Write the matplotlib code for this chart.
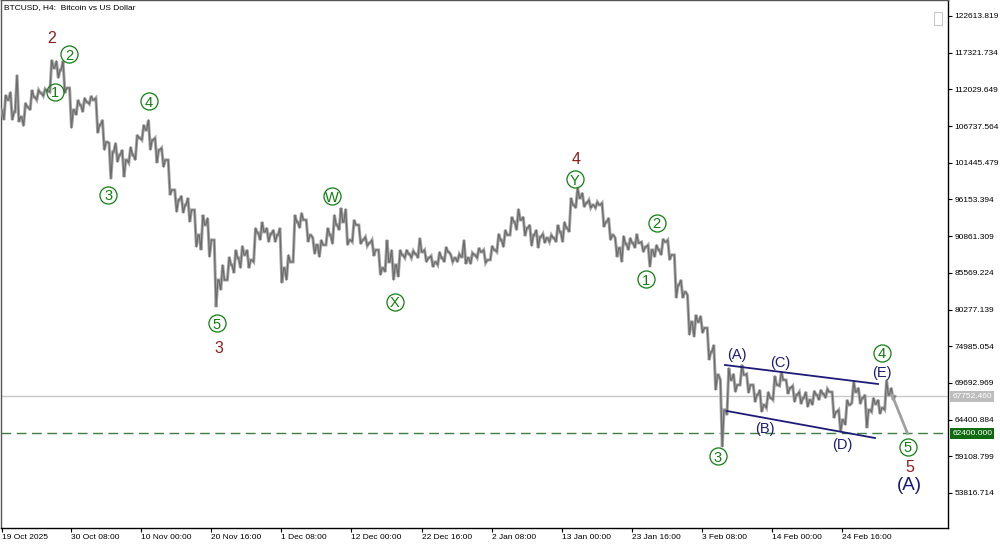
import matplotlib
matplotlib.use('Agg')
import matplotlib.pyplot as plt
from matplotlib.patches import Rectangle

plt.rcParams['font.family'] = ['Liberation Sans', 'DejaVu Sans']

# ---------------- data (daily high / low / close, thousands USD) ----------------
high_k = [111.22, 111.65, 114.11, 110.07, 111.94, 111.94, 112.09, 116.27, 116.12, 116.12,
          112.23, 110.50, 110.79, 111.08, 110.79, 107.62, 104.30, 104.30, 103.29, 103.72,
          105.45, 106.90, 107.62, 105.02, 103.58, 101.85, 97.52, 96.66, 96.37, 94.64,
          93.92, 93.48, 90.31, 86.71, 87.86, 88.87, 89.45, 88.87, 92.04, 92.91,
          92.04, 91.75, 92.04, 88.15, 93.92, 94.21, 93.20, 90.60, 90.31, 92.04,
          93.92, 94.93, 94.78, 93.20, 92.48, 90.75, 90.31, 88.87, 90.31, 88.87,
          88.87, 88.87, 88.73, 90.60, 88.87, 88.01, 88.58, 89.30, 88.15, 88.29,
          90.31, 88.44, 89.16, 88.87, 89.45, 91.18, 91.75, 93.63, 94.78, 93.63,
          92.48, 91.75, 91.18, 91.03, 92.48, 92.91, 96.37, 97.81, 97.09, 96.08,
          95.79, 95.65, 93.48, 90.60, 90.89, 90.60, 91.18, 90.02, 89.59, 89.59,
          90.46, 90.31, 88.15, 84.54, 82.38, 79.50, 79.35, 77.62, 75.17, 70.12,
          71.85, 70.99, 72.29, 70.99, 69.40, 68.68, 68.39, 70.70, 71.28, 70.12,
          69.26, 68.39, 68.39, 68.54, 68.68, 68.83, 68.39, 65.80, 67.24, 69.84,
          68.97, 67.96, 67.53, 67.24, 70.12, 68.97]
low_k = [107.62, 107.62, 107.33, 106.75, 109.06, 110.50, 111.08, 111.65, 113.67, 111.51,
         106.46, 108.34, 108.77, 109.92, 105.74, 103.29, 99.11, 101.56, 99.40, 101.42,
         101.85, 104.73, 103.29, 101.42, 100.84, 96.80, 94.35, 94.21, 92.91, 89.30,
         88.87, 87.86, 80.65, 83.10, 84.54, 85.55, 86.27, 86.27, 87.14, 90.31,
         90.02, 90.02, 84.11, 84.54, 87.14, 92.04, 90.02, 88.29, 87.86, 89.59,
         89.74, 91.75, 89.59, 90.02, 89.74, 89.45, 88.01, 85.27, 85.70, 84.54,
         84.98, 87.72, 87.72, 87.72, 87.14, 86.42, 86.71, 87.14, 87.14, 87.14,
         86.85, 86.85, 87.72, 87.00, 87.43, 88.58, 89.30, 91.03, 91.75, 90.89,
         89.45, 89.16, 89.88, 90.02, 90.02, 90.02, 91.47, 94.93, 95.07, 94.93,
         94.93, 92.19, 90.31, 87.86, 87.14, 88.87, 89.16, 88.58, 86.42, 87.86,
         88.15, 87.43, 81.95, 81.95, 76.61, 76.33, 76.90, 73.01, 68.68, 60.46,
         65.08, 68.39, 69.40, 68.25, 66.95, 65.51, 66.09, 67.24, 69.26, 68.11,
         66.95, 66.66, 66.23, 66.52, 67.24, 67.53, 64.64, 62.63, 63.64, 66.81,
         66.66, 63.20, 65.51, 65.22, 65.80, 67.24]
close_k = [110.50, 108.77, 108.05, 109.49, 110.93, 111.51, 111.80, 115.11, 114.83, 112.23,
           109.06, 109.78, 110.21, 110.50, 106.90, 104.44, 103.00, 102.57, 101.85, 102.57,
           105.02, 106.17, 104.73, 103.29, 101.85, 97.52, 96.08, 95.36, 94.64, 91.03,
           92.48, 90.31, 84.54, 84.54, 86.71, 87.72, 88.15, 87.43, 91.32, 91.47,
           91.18, 91.03, 86.27, 87.14, 92.91, 93.20, 91.03, 89.59, 89.59, 91.03,
           92.48, 92.91, 90.31, 92.48, 90.31, 89.88, 88.87, 86.27, 87.14, 86.71,
           88.15, 88.29, 88.29, 88.58, 87.72, 87.14, 87.72, 88.58, 87.72, 87.86,
           87.72, 88.15, 88.58, 87.43, 88.87, 90.31, 91.03, 92.91, 93.20, 92.04,
           91.03, 90.75, 90.60, 90.60, 91.47, 92.04, 95.36, 96.37, 95.65, 95.36,
           95.36, 92.91, 91.03, 89.16, 89.74, 89.88, 89.88, 89.30, 88.87, 88.87,
           90.02, 88.15, 83.82, 82.81, 78.49, 78.49, 77.62, 74.16, 70.85, 65.80,
           70.12, 69.40, 70.85, 69.40, 67.96, 66.52, 67.53, 69.40, 70.12, 68.97,
           67.96, 67.53, 67.24, 67.96, 68.11, 68.39, 65.51, 64.36, 66.52, 68.39,
           67.53, 65.80, 66.66, 66.09, 67.96, 67.75]
first_open_k = 109.06
bars_per_day = 6

current_price = 67752.460
target_price = 62400.000

ytick_values = [122613.819, 117321.734, 112029.649, 106737.564, 101445.479, 96153.394,
                90861.309, 85569.224, 80277.139, 74985.054, 69692.969, 64400.884,
                59108.799, 53816.714]
xtick_bars = [0, 63, 127, 191, 255, 319, 383, 447, 511, 575, 639, 703, 767]
xtick_labels = ['19 Oct 2025', '30 Oct 08:00', '10 Nov 00:00', '20 Nov 16:00', '1 Dec 08:00',
                '12 Dec 00:00', '22 Dec 16:00', '2 Jan 08:00', '13 Jan 00:00', '23 Jan 16:00',
                '3 Feb 08:00', '14 Feb 00:00', '24 Feb 16:00']

# channel lines (bar index, price)
upper_channel_bars = [659.9, 799.6]
upper_channel_prices = [72278, 69538]
lower_channel_bars = [661.7, 796.8]
lower_channel_prices = [65643, 61749]
proj_bars = [812.5, 826.5]
proj_prices = [67900, 62400]

# wave labels: (text, bar, price)
circled_labels = [('2', 61.2, 117090), ('1', 48.4, 111695), ('4', 134.2, 110354),
                  ('3', 96.8, 96797), ('5', 196.0, 78292), ('W', 300.9, 96652),
                  ('X', 358.7, 81408), ('Y', 523.0, 99104), ('2', 597.6, 92801),
                  ('1', 587.8, 84638), ('3', 653.5, 59153), ('4', 802.9, 74051),
                  ('5', 826.9, 60494)]
red_labels = [('2', 45.6, 119540), ('3', 198.1, 74874), ('4', 523.9, 102133), ('5', 828.8, 57711)]
navy_labels = [('(A)', 670.6, 73720), ('(B)', 696.4, 63047), ('(C)', 710.7, 72523),
               ('(D)', 767.0, 60740), ('(E)', 802.9, 71167)]
big_label = ('(A)', 827.9, 54970)

# ---------------- figure ----------------
W, H = 1000, 545
fig = plt.figure(figsize=(W / 100, H / 100), dpi=100)
fig.patch.set_facecolor('white')
ax = fig.add_axes([1 / W, (H - 528) / H, 947 / W, 528 / H])

px_per_bar = 1.0956
ax.set_xlim((1 - 2) / px_per_bar, (948 - 2) / px_per_bar)
p_per_px = 144.229
ytop = 122613.819 + 16 * p_per_px
ax.set_ylim(ytop - 528 * p_per_px, ytop)

# price path built from daily OHLC
xs, ys = [], []
prev = first_open_k * 1000
for k in range(len(close_k)):
    o = prev
    h = high_k[k] * 1000
    l = low_k[k] * 1000
    c = close_k[k] * 1000
    b = bars_per_day * k
    mids = [l, h] if c >= o else [h, l]
    xs += [b, b + 1.7, b + 3.4, b + 5]
    ys += [o, mids[0], mids[1], c]
    prev = c
ax.plot(xs, ys, color='#a8a8a8', lw=2.2, solid_joinstyle='miter', zorder=3)
ax.plot(xs, ys, color='#6c6c6c', lw=0.9, zorder=4)

# horizontal lines
ax.axhline(current_price, color='#c8c8c8', lw=1.0, zorder=1)
ax.axhline(target_price, color='#3d7f3d', lw=1.0, ls=(0, (7, 4)), zorder=1)

# channel and projection
ax.plot(upper_channel_bars, upper_channel_prices, color='#1c1c78', lw=1.3, zorder=5)
ax.plot(lower_channel_bars, lower_channel_prices, color='#1c1c78', lw=1.3, zorder=5)
ax.plot(proj_bars, proj_prices, color='#a0a0a0', lw=2.0, zorder=5)

green = '#0f7f0f'
for t, bx, pr in circled_labels:
    ax.plot([bx], [pr], 'o', ms=12.3, mfc='none', mec=green, mew=0.9, zorder=6)
    ax.text(bx, pr, t, ha='center', va='center_baseline', fontsize=10.5, color=green, zorder=7)
for t, bx, pr in red_labels:
    ax.text(bx, pr, t, ha='center', va='center_baseline', fontsize=11.5, color='#921c1c', zorder=7)
for t, bx, pr in navy_labels:
    ax.text(bx, pr, t, ha='center', va='center', fontsize=10.5, color='#1c1c78', zorder=7)
ax.text(big_label[1], big_label[2], big_label[0], ha='center', va='center', fontsize=13.5,
        color='#1c1c78', zorder=7)

# axes styling
for s in ax.spines.values():
    s.set_color('black')
    s.set_linewidth(1.0)
ax.spines['left'].set_color('#555555')
ax.spines['top'].set_color('#555555')

ax.yaxis.tick_right()
ax.set_yticks(ytick_values)
ax.set_yticklabels([f'{v:.3f}' for v in ytick_values])
ax.tick_params(axis='y', direction='out', length=3, width=0.8, pad=1.5, labelsize=6, colors='black')
ax.set_xticks(xtick_bars)
ax.set_xticklabels(xtick_labels, ha='left')
ax.tick_params(axis='x', direction='out', length=3, width=0.8, pad=1.5, labelsize=6, colors='black')

# price boxes on axis
ax.annotate(f'{current_price:.3f}', xy=(1, current_price), xycoords=('axes fraction', 'data'),
            xytext=(3, 0), textcoords='offset points', va='center', ha='left', fontsize=6,
            color='white', bbox=dict(boxstyle='square,pad=0.25', fc='#bdbdbd', ec='none'),
            annotation_clip=False)
ax.annotate(f'{target_price:.3f}', xy=(1, target_price), xycoords=('axes fraction', 'data'),
            xytext=(3, 0), textcoords='offset points', va='center', ha='left', fontsize=6,
            color='white', bbox=dict(boxstyle='square,pad=0.25', fc='#106b10', ec='none'),
            annotation_clip=False)

# title
fig.text(4 / W, 1 - 8 / H, 'BTCUSD, H4:  Bitcoin vs US Dollar', fontsize=6, va='center', ha='left')

# small icon top right
fig.patches.append(Rectangle((934 / W, 1 - 25 / H), 8 / W, 13 / H, transform=fig.transFigure,
                             fc='white', ec='#c8c8c8', lw=0.8))

fig.savefig('out.png', dpi=100)
